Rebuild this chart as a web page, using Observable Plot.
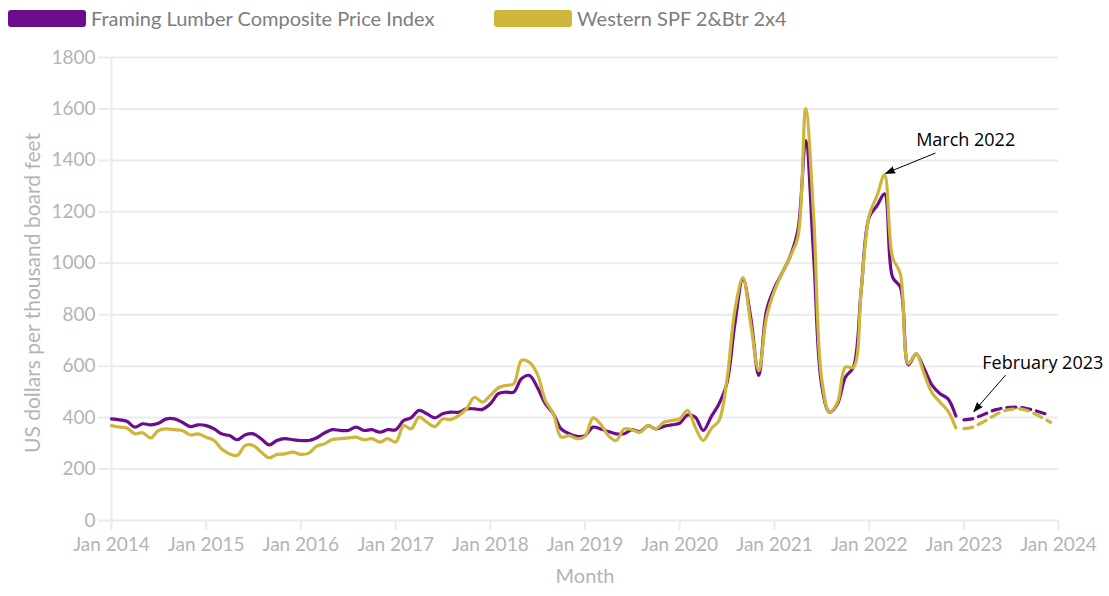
<!DOCTYPE html>
<html><head><meta charset="utf-8">
<script src="https://cdn.jsdelivr.net/npm/d3@7"></script>
<script src="https://cdn.jsdelivr.net/npm/@observablehq/plot@0.6"></script>
<style>
body{margin:0;background:#fff;font-family:Lato,"Noto Sans",sans-serif;}
#legend{position:relative;height:32px;width:1109px;}
.item{position:absolute;top:2px;height:32px;display:flex;align-items:center;font-size:20px;color:#7d7d7d;white-space:nowrap;}
.sw{width:78px;height:17px;border-radius:3px;margin-right:5px;}
#chart svg{display:block;}
</style></head><body>
<div id="legend"></div>
<div id="chart"></div>
<script>
// ---- data ----
const seriesNames = ["Framing Lumber Composite Price Index", "Western SPF 2&Btr 2x4"];
const seriesColors = ["#6b0d8c", "#cdb63a"];
const firstMonth = "2014-01"; // monthly observations, Jan 2014 – Dec 2022
const framingComposite = [
  395,391,386,363,376,372,378,395,395,382,365,372,
  369,356,337,330,314,333,337,318,294,311,318,314,
  311,311,321,340,353,350,350,363,350,353,343,353,
  353,389,399,428,415,399,415,421,421,434,434,432,
  454,493,499,499,551,564,518,454,415,356,337,327,
  330,363,356,346,337,337,353,346,369,356,366,372,
  378,410,402,350,402,454,533,765,940,790,564,816,
  905,966,1024,1128,1477,1024,531,421,454,557,596,894,
  1179,1225,1270,946,907,605,648,590,525,493,473,406
];
const westernSPF = [
  369,363,360,337,341,321,350,356,353,350,333,337,
  324,311,279,259,253,292,292,266,244,257,259,266,
  257,262,288,298,315,318,321,324,314,318,305,318,
  305,369,356,402,382,365,395,392,408,434,479,460,
  486,516,525,531,622,615,570,467,415,324,330,318,
  327,399,376,330,311,356,353,343,369,356,382,389,
  395,428,363,311,356,389,544,817,944,765,583,790,
  894,966,1024,1102,1601,1179,557,421,460,596,596,894,
  1186,1265,1345,1024,959,610,648,570,495,460,425,360
];
const forecastFirstMonth = "2023-01"; // forecast, Jan – Dec 2023 (dashed)
const framingForecast = [391,395,405,418,430,437,440,440,435,428,418,408];
const westernForecast = [357,362,375,392,410,425,432,434,428,415,398,382];
const yTicks = [0,200,400,600,800,1000,1200,1400,1600,1800];
const xTickYears = [2014,2015,2016,2017,2018,2019,2020,2021,2022,2023,2024];
const xLabel = "Month";
const yLabel = "US dollars per thousand board feet";
const annotations = [
  {label: "March 2022", tx: "2022-07-01", ty: 1477, ax1: "2022-09-12", ay1: 1428, ax2: "2022-03-06", ay2: 1350},
  {label: "February 2023", tx: "2023-03-13", ty: 610, ax1: "2023-06-10", ay1: 564, ax2: "2023-02-09", ay2: 424}
];

// ---- build tables ----
const parse = d3.utcParse("%Y-%m");
const parseDay = d3.utcParse("%Y-%m-%d");
function toRows(start, values) {
  const s = parse(start);
  return values.map((v, i) => ({date: d3.utcMonth.offset(s, i), value: v}));
}
const purpleActual = toRows(firstMonth, framingComposite);
const yellowActual = toRows(firstMonth, westernSPF);
const purpleFc = toRows(forecastFirstMonth, framingForecast);
const yellowFc = toRows(forecastFirstMonth, westernForecast);
const xTicks = xTickYears.map(y => new Date(Date.UTC(y, 0, 1)));
const ann = annotations.map(a => ({...a, tx: parseDay(a.tx), ax1: parseDay(a.ax1), ax2: parseDay(a.ax2)}));

// ---- legend ----
const legend = document.getElementById("legend");
const legendLeft = [8, 494];
seriesNames.forEach((n, i) => {
  const it = document.createElement("div");
  it.className = "item";
  it.style.left = legendLeft[i] + "px";
  it.innerHTML = `<span class="sw" style="background:${seriesColors[i]}"></span><span>${n.replace("&","&amp;")}</span>`;
  legend.appendChild(it);
});

// ---- chart ----
const tickColor = "#b4b4b4";
const gridColor = "#ebebeb";
const chart = Plot.plot({
  width: 1109,
  height: 564,
  marginTop: 25,
  marginBottom: 76,
  marginLeft: 111,
  marginRight: 51,
  style: {fontFamily: "Lato, 'Noto Sans', sans-serif", fontSize: "19px", background: "#fff", overflow: "visible"},
  x: {type: "utc", domain: [xTicks[0], xTicks[xTicks.length - 1]], axis: null},
  y: {domain: [0, 1800], axis: null},
  marks: [
    Plot.gridY(yTicks, {stroke: gridColor, strokeOpacity: 1, strokeWidth: 2}),
    Plot.ruleX([xTicks[0]], {y1: 0, y2: 1800, stroke: gridColor, strokeWidth: 2}),
    Plot.axisY(yTicks, {tickSize: 13, tickPadding: 3, tickFormat: d => String(d), stroke: gridColor, strokeWidth: 2, fill: tickColor, fontSize: 19, label: null}),
    Plot.axisX(xTicks, {tickSize: 10, tickPadding: 7, tickFormat: d3.utcFormat("%b %Y"), stroke: gridColor, strokeWidth: 2, fill: tickColor, fontSize: 19, label: null}),
    Plot.text([xLabel], {text: d => d, frameAnchor: "bottom", dy: 62, fill: tickColor, fontSize: 20}),
    Plot.text([yLabel], {text: d => d, frameAnchor: "left", textAnchor: "middle", rotate: -90, dx: -78, dy: 4, fill: tickColor, fontSize: 21}),
    Plot.line(purpleActual, {x: "date", y: "value", stroke: seriesColors[0], strokeWidth: 3.2, curve: "catmull-rom"}),
    Plot.line(yellowActual, {x: "date", y: "value", stroke: seriesColors[1], strokeWidth: 3.2, curve: "catmull-rom"}),
    Plot.line(purpleFc, {x: "date", y: "value", stroke: seriesColors[0], strokeWidth: 3.2, strokeDasharray: "9,6", curve: "catmull-rom"}),
    Plot.line(yellowFc, {x: "date", y: "value", stroke: seriesColors[1], strokeWidth: 3.2, strokeDasharray: "9,6", curve: "catmull-rom"}),
    Plot.arrow(ann, {x1: "ax1", y1: "ay1", x2: "ax2", y2: "ay2", stroke: "#000", fill: "#000", strokeWidth: 1, headLength: 14, headAngle: 40}),
    Plot.text(ann, {x: "tx", y: "ty", text: "label", textAnchor: "start", fill: "#000", fontSize: 18, fontFamily: "'Open Sans', 'Noto Sans', sans-serif"})
  ]
});
document.getElementById("chart").appendChild(chart);
</script>
</body></html>
